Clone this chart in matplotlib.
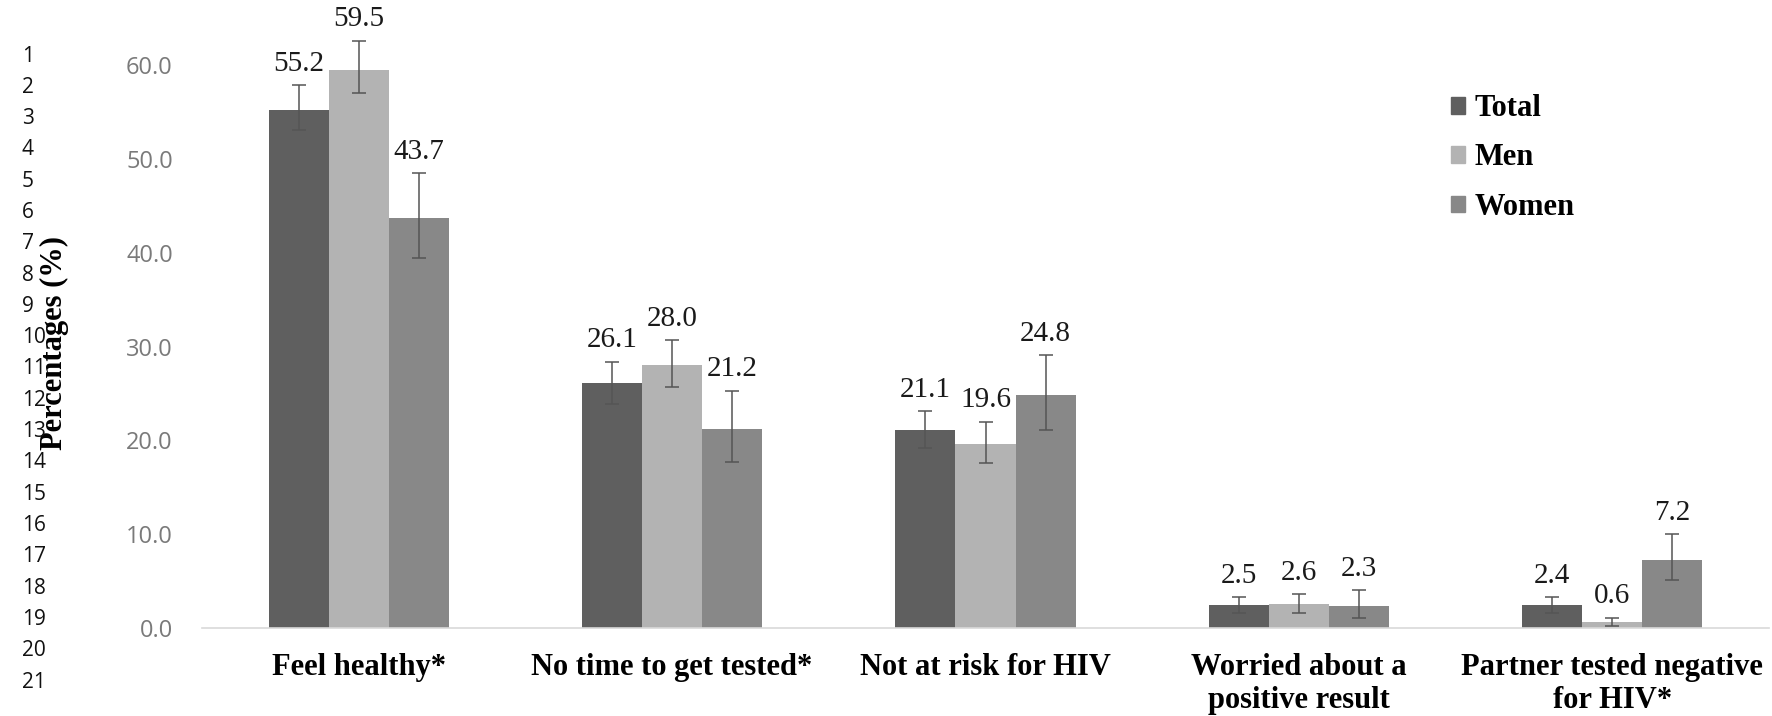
import numpy as np
import matplotlib
matplotlib.use('Agg')
import matplotlib.pyplot as plt
from matplotlib.patches import Patch

categories = ['Feel healthy*', 'No time to get tested*', 'Not at risk for HIV',
              'Worried about a\npositive result', 'Partner tested negative\nfor HIV*']
groups = ['Total', 'Men', 'Women']

total = [55.2, 26.1, 21.1, 2.5, 2.4]
men = [59.5, 28.0, 19.6, 2.6, 0.6]
women = [43.7, 21.2, 24.8, 2.3, 7.2]

# 95% CI bounds
total_lo = [53.1, 23.9, 19.2, 1.6, 1.6]
total_hi = [57.9, 28.4, 23.1, 3.3, 3.3]
men_lo = [57.0, 25.7, 17.6, 1.6, 0.25]
men_hi = [62.6, 30.7, 22.0, 3.6, 1.1]
women_lo = [39.4, 17.7, 21.1, 1.1, 5.1]
women_hi = [48.5, 25.3, 29.1, 4.0, 10.0]

colors = ['#5f5f5f', '#b3b3b3', '#888888']

W, H = 1772, 716
fig = plt.figure(figsize=(W / 100, H / 100), dpi=100)
ax = fig.add_axes([202 / W, 88 / H, 1567 / W, 628 / H])

x = np.arange(len(categories))
bw = 0.1915
series = [(total, total_lo, total_hi), (men, men_lo, men_hi), (women, women_lo, women_hi)]
for i, (vals, lo, hi) in enumerate(series):
    vals = np.array(vals)
    lo = np.array(lo)
    hi = np.array(hi)
    xs = x + (i - 1) * bw
    ax.bar(xs, vals, bw, color=colors[i], label=groups[i], zorder=2)
    ax.errorbar(xs, vals, yerr=[vals - lo, hi - vals], fmt='none', ecolor='#555555',
                elinewidth=1.1, capsize=4.8, capthick=1.1, zorder=3)
    for xi, v, h in zip(xs, vals, hi):
        ax.annotate(f'{v:.1f}', (xi, h), xytext=(0, 6), textcoords='offset points',
                    ha='center', va='bottom', fontsize=21, family='Liberation Serif',
                    color='#1a1a1a')

ax.set_xlim(-0.5, 4.5)
ax.set_ylim(0, 66.95)
ax.set_yticks(np.arange(0, 61, 10))
ax.set_yticklabels([f'{t:.1f}' for t in np.arange(0, 61, 10)], family='Open Sans',
                   fontsize=17, color='#7a7a7a')
ax.tick_params(axis='y', length=0, pad=21)
ax.set_xticks(x)
ax.set_xticklabels(categories, family='Liberation Serif', fontweight='bold', fontsize=22)
ax.tick_params(axis='x', length=0, pad=18)
for s in ['top', 'right', 'left']:
    ax.spines[s].set_visible(False)
ax.spines['bottom'].set_color('#d9d9d9')
ax.spines['bottom'].set_linewidth(1.2)

fig.text(54 / W, 1 - 343 / H, 'Percentages (%)', rotation=90, ha='center', va='center',
         family='Liberation Serif', fontweight='bold', fontsize=22)

# line numbers at the left margin
for n in range(1, 22):
    fig.text(22 / W, 1 - (56 + (n - 1) * 31.3) / H, str(n), ha='left', va='center',
             family='Open Sans', fontsize=15, color='#111111')

handles = [Patch(color=c) for c in colors]
ax.legend(handles, groups, loc='upper left', bbox_to_anchor=(1436 / W, 1 - 79 / H),
          bbox_transform=fig.transFigure, frameon=False, borderpad=0,
          handlelength=0.45, handleheight=0.45, handletextpad=0.3, labelspacing=0.66,
          prop={'family': 'Liberation Serif', 'weight': 'bold', 'size': 22})

fig.savefig('out.png', dpi=100)
